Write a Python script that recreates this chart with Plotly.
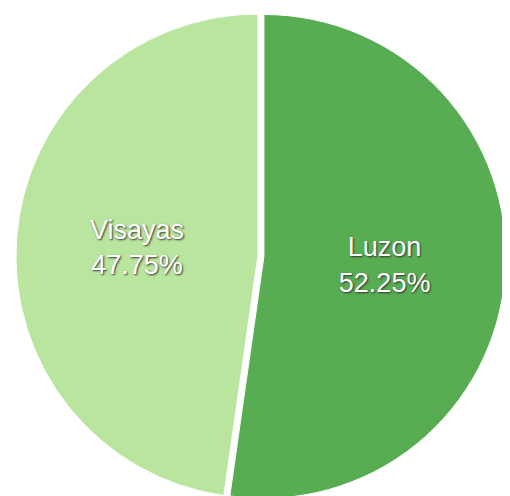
import plotly.graph_objects as go

labels = ["Luzon", "Visayas"]
values = [52.25, 47.75]
colors = ["#58ad52", "#b9e59e"]
pulls = [0.025, 0.0]

fig = go.Figure(go.Pie(
    labels=labels,
    values=values,
    sort=False,
    direction="clockwise",
    rotation=0,
    pull=pulls,
    marker=dict(colors=colors, line=dict(color="white", width=1)),
    texttemplate="%{label}<br>%{percent:.2%}",
    textposition="inside",
    insidetextorientation="horizontal",
    textfont=dict(family="Liberation Sans, Arial, sans-serif", size=27, color="white",
                  shadow="1px 1px 2px #333"),
    showlegend=False,
    domain=dict(x=[0.0, 0.98], y=[0.0, 1.0]),
    hoverinfo="label+percent",
))

fig.update_layout(
    width=510, height=496,
    margin=dict(l=0, r=0, t=0, b=0),
    paper_bgcolor="white",
    plot_bgcolor="white",
)

fig.write_html("out.html")
